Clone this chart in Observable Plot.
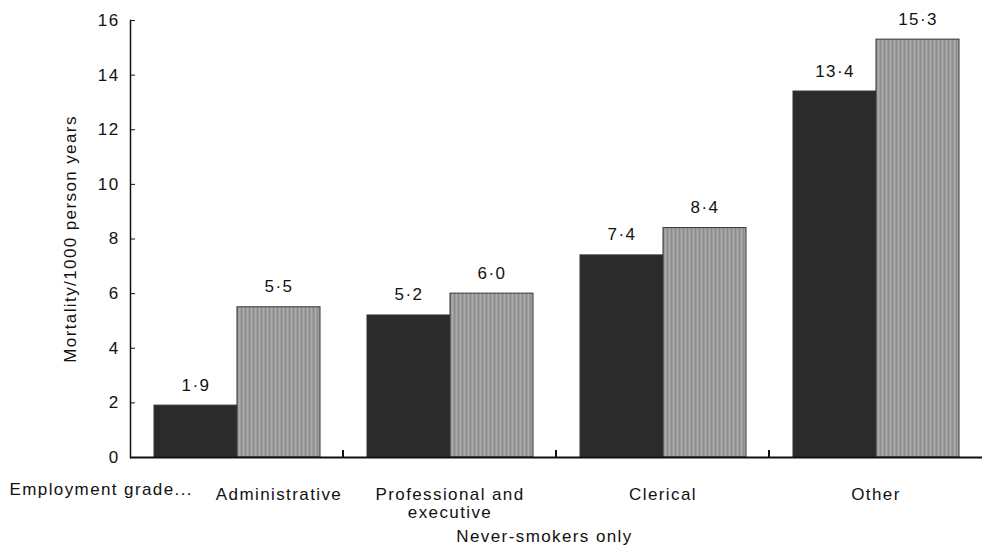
<!DOCTYPE html>
<html>
<head>
<meta charset="utf-8">
<script src="https://cdn.jsdelivr.net/npm/d3@7"></script>
<script src="https://cdn.jsdelivr.net/npm/@observablehq/plot@0.6"></script>
<style>
  html, body { margin: 0; padding: 0; background: white; }
  #chart svg text { letter-spacing: 1.4px; }
</style>
</head>
<body>
<div id="chart"></div>
<script>
// ---- data ----
const categories = ["Administrative", "Professional and\nexecutive", "Clerical", "Other"];
const seriesNames = ["Series 1", "Series 2"];
const series1Values = [1.9, 5.2, 7.4, 13.4];
const series2Values = [5.5, 6.0, 8.4, 15.3];
const yTicks = [0, 2, 4, 6, 8, 10, 12, 14, 16];
const yLabel = "Mortality/1000 person years";
const xLeftLabel = "Employment grade...";
const caption = "Never-smokers only";

const data = categories.flatMap((c, i) => [
  {category: c, series: seriesNames[0], value: series1Values[i]},
  {category: c, series: seriesNames[1], value: series2Values[i]}
]);

const fmt = v => v.toFixed(1).replace(".", "·");

const boundaryTick = (index, scales, values, dims) => {
  const g = d3.create("svg:g");
  if (!index.length) return g.node();
  const x = dims.width - dims.marginRight;
  const y0 = scales.y(0);
  g.append("line").attr("x1", x).attr("x2", x).attr("y1", y0).attr("y2", y0 - 7)
    .attr("stroke", "#111").attr("stroke-width", 2);
  return g.node();
};

const chart = Plot.plot({
  width: 982,
  height: 555,
  marginLeft: 129,
  marginRight: 0,
  marginTop: 20,
  marginBottom: 98,
  style: {fontFamily: "'Liberation Sans', Arial, sans-serif", fontSize: "17px", color: "#111", background: "white"},
  fx: {domain: categories, padding: 0, axis: null},
  x: {domain: seriesNames, paddingInner: 0, paddingOuter: 0.27, axis: null},
  y: {domain: [0, 16], axis: null},
  color: {domain: seriesNames, range: ["#2b2b2b", "url(#stripes)"]},
  marks: [
    Plot.barY(data, {fx: "category", x: "series", y: "value", fill: "series", stroke: "#333", strokeWidth: 1}),
    Plot.text(data, {fx: "category", x: "series", y: "value", text: d => fmt(d.value), lineAnchor: "bottom", dy: -15, fontSize: 17, fill: "#111"}),
    Plot.ruleY([0], {stroke: "#111", strokeWidth: 2}),
    Plot.ruleY(categories.slice(0, -1), {fx: d => d, y: () => 0, render: boundaryTick}),
    Plot.frame({anchor: "left", facet: "super", stroke: "#111", strokeWidth: 1.5}),
    Plot.axisY({ticks: yTicks, tickSize: -5, tickPadding: 16, fontSize: 17, label: yLabel, labelAnchor: "center", labelArrow: "none", labelOffset: 67}),
    Plot.text(categories.slice(0, 1), {fx: d => d, frameAnchor: "bottom", lineAnchor: "top", dy: 30, dx: 42, text: d => d, fontSize: 17}),
    Plot.text(categories.slice(1), {fx: d => d, frameAnchor: "bottom", lineAnchor: "top", dy: 30, text: d => d, fontSize: 17, lineHeight: 1.05}),
    Plot.text([xLeftLabel], {facet: "super", frameAnchor: "bottom-left", textAnchor: "start", dx: -121, dy: 37, text: d => d, fontSize: 17}),
    Plot.text([caption], {facet: "super", frameAnchor: "bottom", dy: 84, dx: -12, text: d => d, fontSize: 17})
  ]
});

const svgEl = chart.tagName.toLowerCase() === "svg" ? chart : chart.querySelector("svg");
const ns = "http://www.w3.org/2000/svg";
const defs = document.createElementNS(ns, "defs");
defs.innerHTML = `<pattern id="stripes" width="4" height="4" patternUnits="userSpaceOnUse">
  <rect width="4" height="4" fill="#9d9d9d"/>
  <rect x="0" width="1" height="4" fill="#8c8c8c"/>
  <rect x="2" width="1" height="4" fill="#ababab"/>
</pattern>`;
svgEl.insertBefore(defs, svgEl.firstChild);

document.getElementById("chart").appendChild(chart);
</script>
</body>
</html>
